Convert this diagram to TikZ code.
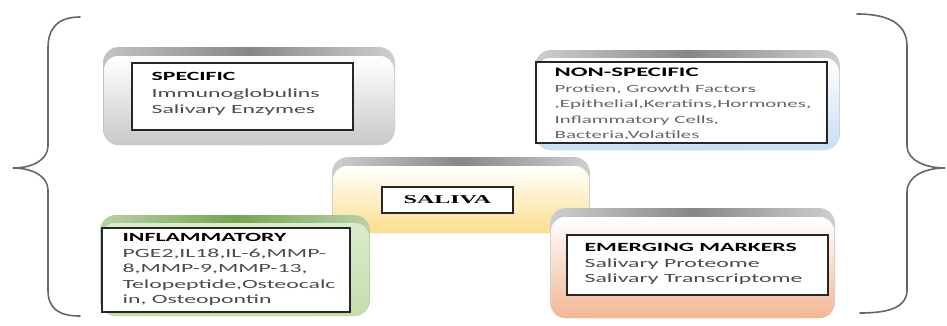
\documentclass[tikz,border=0pt]{standalone}
\usepackage{fontspec}
\setmainfont{Carlito}
\newfontfamily\salfont{Liberation Serif}
\usepackage{graphicx}
\usetikzlibrary{positioning}

\definecolor{bandgray}{RGB}{135,135,135}
\definecolor{bodygray}{RGB}{75,75,75}
\definecolor{salyellow}{RGB}{252,222,140}
\definecolor{nsblue}{RGB}{200,222,245}
\definecolor{infgreen}{RGB}{115,165,80}
\definecolor{infgreenlt}{RGB}{195,222,172}
\definecolor{empeach}{RGB}{244,182,148}

\newcommand{\wtext}[1]{\scalebox{1.9}[1]{\begin{tabular}{@{}l@{}}#1\end{tabular}}}
\newcommand{\head}[1]{{\color{black}\bfseries #1}}

\begin{document}
\begin{tikzpicture}[x=1pt,y=-1pt,
  inbox/.style={draw=black!85, line width=1.1pt, fill=white, inner sep=0pt},
  txt/.style={anchor=north west, inner sep=0pt, text=bodygray, font=\fontsize{12.5}{15.5}\selectfont},
  brace/.style={draw=black!60, line width=1.6pt, line cap=round}]
\useasboundingbox (0,0) rectangle (947,325);

% saliva glow (behind the others)
\shade[left color=bandgray!40, right color=bandgray!40, middle color=bandgray, rounded corners=16pt] (332,157) rectangle (590,233);
\shade[top color=white, bottom color=salyellow, rounded corners=14pt] (333,166) rectangle (589,233);

% specific
\shade[left color=bandgray!50, right color=bandgray!40, middle color=bandgray, rounded corners=16pt] (103,47) rectangle (395,145);
\shade[top color=white, bottom color=bandgray!45, rounded corners=14pt] (104,56) rectangle (394,145);

% non-specific
\shade[left color=bandgray!40, right color=bandgray!40, middle color=bandgray, rounded corners=16pt] (535,50) rectangle (840,150);
\shade[top color=white, bottom color=nsblue, rounded corners=14pt] (536,58) rectangle (839,150);

% inflammatory
\shade[left color=infgreen!50, right color=infgreen!50, middle color=infgreen, rounded corners=16pt] (100,215) rectangle (370,316);
\shade[top color=infgreenlt!60, bottom color=infgreenlt, rounded corners=14pt] (101,223) rectangle (369,316);

% emerging markers
\shade[left color=bandgray!40, right color=bandgray!40, middle color=bandgray, rounded corners=16pt] (550,208) rectangle (835,318);
\shade[top color=white, bottom color=empeach, rounded corners=14pt] (551,217) rectangle (834,318);

\node[inbox, minimum width=221pt, minimum height=67pt] (spec) at (242.5,96.5) {};
\node[inbox, minimum width=291pt, minimum height=81pt] (nonspec) at (681.5,102.5) {};
\node[inbox, line width=1.6pt, minimum width=131pt, minimum height=26pt] (saliva) at (447.5,200)
  {\salfont\bfseries\fontsize{12}{14}\selectfont\scalebox{2}[1]{SALIVA}};
\node[inbox, minimum width=248pt, minimum height=84pt] (inflam) at (226,270) {};
\node[inbox, minimum width=261pt, minimum height=60pt] (emerg) at (697.5,265) {};

\node[txt, font=\fontsize{12.5}{16.5}\selectfont] (spec text) at ([xshift=20pt,yshift=-6.5pt]spec.north west)
  {\wtext{\head{SPECIFIC}\\Immunoglobulins\\Salivary Enzymes}};
\node[txt, text=black!60, font=\fontsize{11}{15.5}\selectfont] (nonspec text) at ([xshift=19pt,yshift=-4.3pt]nonspec.north west)
  {\wtext{\head{\fontsize{13}{15.5}\selectfont NON-SPECIFIC}\\Protien, Growth Factors\\,Epithelial,Keratins,Hormones,\\Inflammatory Cells,\\Bacteria,Volatiles}};
\node[txt] (inflam text) at ([xshift=21pt,yshift=-3pt]inflam.north west)
  {\wtext{\head{INFLAMMATORY}\\PGE2,IL18,IL-6,MMP-\\8,MMP-9,MMP-13,\\Telopeptide,Osteocalc\\in, Osteopontin}};
\node[txt] (emerg text) at ([xshift=18pt,yshift=-6pt]emerg.north west)
  {\wtext{\head{EMERGING MARKERS}\\Salivary Proteome\\Salivary Transcriptome}};

% braces
\draw[brace] (80,17) .. controls (58,17) and (48,28) .. (48,48) -- (48,146)
  .. controls (48,160) and (32,168) .. (13,168) .. controls (32,168) and (48,176) .. (48,190)
  -- (48,290) .. controls (48,308) and (58,316) .. (80,316);
\draw[brace] (857,14) .. controls (892,14) and (907,26) .. (907,46) -- (907,146)
  .. controls (907,160) and (925,168) .. (945,168) .. controls (925,168) and (907,176) .. (907,192)
  -- (907,290) .. controls (907,306) and (892,313) .. (860,313);
\end{tikzpicture}
\end{document}
